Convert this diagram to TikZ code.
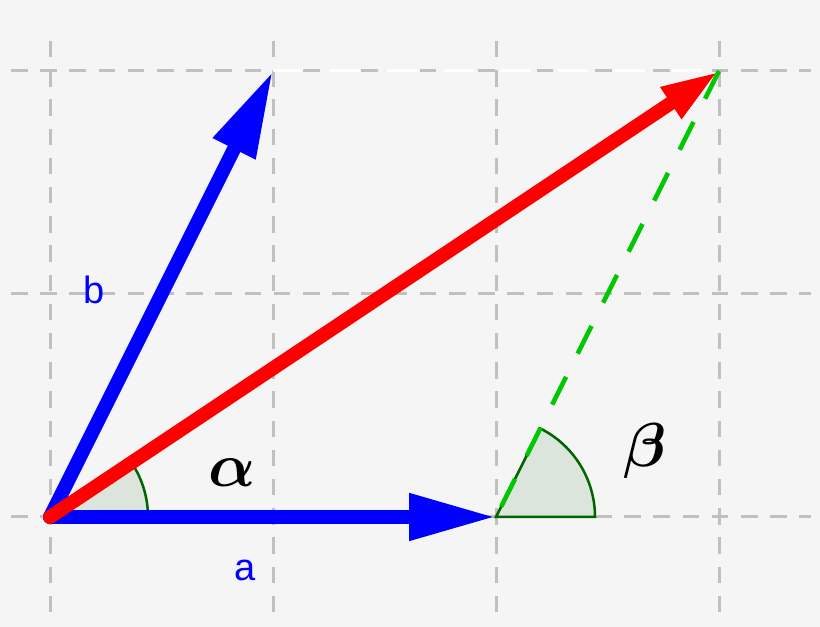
\documentclass[tikz,border=0pt]{standalone}
\usepackage{fontspec}
\setsansfont{Liberation Sans}
\usepackage{bm}
\usetikzlibrary{arrows.meta,calc}
\definecolor{bgc}{HTML}{F5F5F5}
\definecolor{gridc}{HTML}{C0C0C0}
\definecolor{vblue}{HTML}{0000FF}
\definecolor{vred}{HTML}{FF0000}
\definecolor{vgreen}{HTML}{00C800}
\definecolor{afill}{HTML}{DCE5DC}
\definecolor{aline}{HTML}{006400}
\begin{document}
\begin{tikzpicture}[x=1pt,y=1pt,
  gridline/.style={draw=gridc, line width=3pt, dash pattern=on 16.5pt off 12.7pt},
  whitedash/.style={draw=white, line width=3pt, dash pattern=on 30pt off 27pt},
  greendash/.style={draw=vgreen, line width=4.5pt, dash pattern=on 31pt off 26pt},
  anglefill/.style={fill=afill},
  anglearc/.style={draw=aline, line width=2.5pt},
  vecblue/.style={draw=vblue, line width=14pt, line cap=round, -{Triangle[length=87pt,width=44pt]}},
  vecred/.style={draw=vred, line width=14pt, line cap=round, -{Triangle[length=58pt,width=34pt]}},
  veclabel/.style={text=vblue, font=\sffamily\fontsize{38}{40}\selectfont, inner sep=0pt},
  greeklabel/.style={text=black, scale=6.2, inner sep=0pt}]
\fill[bgc] (0,0) rectangle (820,627);
\useasboundingbox (0,0) rectangle (820,627);
\coordinate (O) at (50,110);
\coordinate (A) at (496,110);
\coordinate (B) at (273,556);
\coordinate (S) at (719,556);
% grid
\foreach \x in {50,273,496,719} \draw[gridline] (\x,586) -- (\x,15);
\foreach \y in {556,333,110} \draw[gridline] (11,\y) -- (811,\y);
\draw[whitedash] (B) -- (S);
% angles
\fill[anglefill] (O) -- ++(0:98) arc[start angle=0,end angle=33.69,radius=98] -- cycle;
\draw[anglearc] ($(O)+(0:98)$) arc[start angle=0,end angle=33.69,radius=98];
\filldraw[anglefill,anglearc] (A) -- ++(0:99) arc[start angle=0,end angle=63.43,radius=99] -- cycle;
\draw[greendash] (S) -- (A);
% vectors
\draw[vecblue] (O) -- (A);
\draw[vecblue] (O) -- (B);
\draw[vecred] (O) -- (S);
% labels
\node[veclabel] (la) at (245.5,57) {a};
\node[veclabel] (lb) at (94.5,337.5) {b};
\node[greeklabel] (lalpha) at (232.5,154.5) {$\bm{\alpha}$};
\node[greeklabel] (lbeta) at (645.5,176) {$\bm{\beta}$};
\end{tikzpicture}
\end{document}
